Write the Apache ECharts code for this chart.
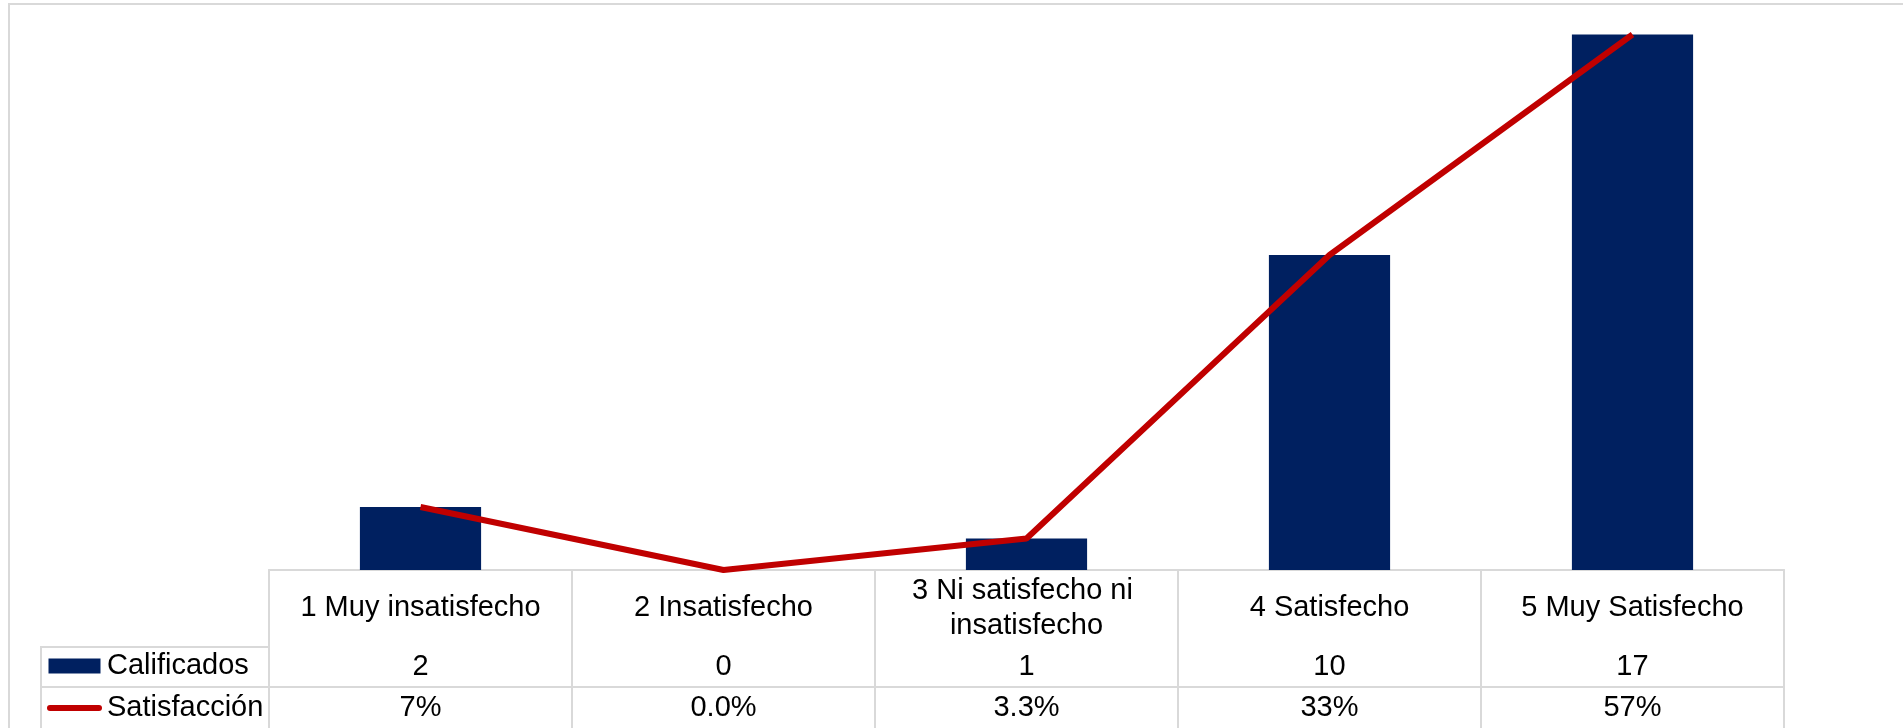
<!DOCTYPE html>
<html>
<head>
<meta charset="utf-8">
<script src="https://cdn.jsdelivr.net/npm/echarts@6/dist/echarts.min.js"></script>
<style>
html,body{margin:0;padding:0;background:#fff;}
#chart{width:1903px;height:728px;}
</style>
</head>
<body>
<div id="chart"></div>
<script>
const categories = ['1 Muy insatisfecho', '2 Insatisfecho', '3 Ni satisfecho ni insatisfecho', '4 Satisfecho', '5 Muy Satisfecho'];
const calificados = [2, 0, 1, 10, 17];
const satisfaccion = [0.0667, 0, 0.0333, 0.3333, 0.5667];
const satisfaccionLabels = ['7%', '0.0%', '3.3%', '33%', '57%'];
const seriesNames = ['Calificados', 'Satisfacción'];

const FONT = '"Liberation Sans", Arial, sans-serif';
const GRID_COL = '#d9d9d9';

const chart = echarts.init(document.getElementById('chart'));

const baseLabel = {
  show: true, interval: 0, color: '#000', fontFamily: FONT, fontSize: 29,
  verticalAlign: 'middle', align: 'center'
};

chart.setOption({
  animation: false,
  backgroundColor: '#fff',
  grid: { left: 269, right: 119, top: 3, bottom: 158, containLabel: false },
  legend: {
    orient: 'vertical', left: 47, top: 651, padding: 0,
    itemWidth: 55, itemHeight: 15, itemGap: 12, itemTextGap: 6,
    textStyle: { fontFamily: FONT, fontSize: 29, color: '#000', lineHeight: 30 },
    data: [
      { name: seriesNames[0], icon: 'path://M2,0 L54,0 L54,15 L2,15 Z' },
      { name: seriesNames[1], icon: 'path://M3,0 L52,0 A3,3 0 0 1 52,6 L3,6 A3,3 0 0 1 3,0 Z' }
    ],
    selectedMode: false
  },
  xAxis: [
    {
      type: 'category', data: categories, position: 'bottom', boundaryGap: true,
      axisLine: { show: true, lineStyle: { color: GRID_COL, width: 2 } },
      axisTick: { show: true, interval: 0, length: 160, lineStyle: { color: GRID_COL, width: 2 } },
      axisLabel: Object.assign({}, baseLabel, { margin: 38, lineHeight: 35, width: 275, overflow: 'break' })
    },
    {
      type: 'category', data: categories, position: 'bottom', offset: 77,
      axisLine: { show: true, lineStyle: { color: GRID_COL, width: 2 } },
      axisTick: { show: false },
      axisLabel: Object.assign({}, baseLabel, { margin: 20, formatter: (v, i) => String(calificados[i]) })
    },
    {
      type: 'category', data: categories, position: 'bottom', offset: 117,
      axisLine: { show: true, lineStyle: { color: GRID_COL, width: 2 } },
      axisTick: { show: false },
      axisLabel: Object.assign({}, baseLabel, { margin: 21, formatter: (v, i) => satisfaccionLabels[i] })
    }
  ],
  yAxis: [
    { type: 'value', min: 0, max: 18, show: false, splitLine: { show: false } },
    { type: 'value', min: 0, max: 0.6, show: false, splitLine: { show: false } }
  ],
  series: [
    {
      name: seriesNames[0], type: 'bar', data: calificados, barWidth: '40%',
      xAxisIndex: 0, yAxisIndex: 0,
      itemStyle: { color: '#002060' }
    },
    {
      name: seriesNames[1], type: 'line', data: satisfaccion,
      xAxisIndex: 0, yAxisIndex: 1, symbol: 'none', z: 5,
      lineStyle: { color: '#C00000', width: 6 },
      itemStyle: { color: '#C00000' }
    }
  ],
  graphic: [
    { type: 'rect', shape: { x: 9, y: 4, width: 2000, height: 1000 }, style: { fill: null, stroke: GRID_COL, lineWidth: 2 }, silent: true },
    { type: 'line', shape: { x1: 41, y1: 647, x2: 269, y2: 647 }, style: { stroke: GRID_COL, lineWidth: 2 }, silent: true },
    { type: 'line', shape: { x1: 41, y1: 687, x2: 269, y2: 687 }, style: { stroke: GRID_COL, lineWidth: 2 }, silent: true },
    { type: 'line', shape: { x1: 41, y1: 646, x2: 41, y2: 740 }, style: { stroke: GRID_COL, lineWidth: 2 }, silent: true }
  ]
});
</script>
</body>
</html>
